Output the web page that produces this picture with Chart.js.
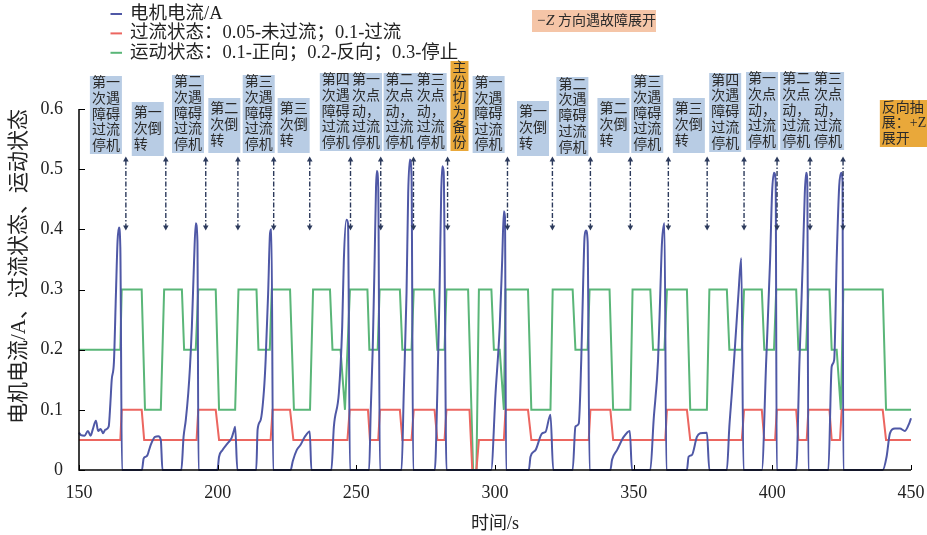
<!DOCTYPE html>
<html>
<head>
<meta charset="utf-8">
<script src="https://cdn.jsdelivr.net/npm/chart.js@4.4.1/dist/chart.umd.min.js"></script>
<style>
html,body{margin:0;padding:0;background:#fff;}
</style>
</head>
<body>
<canvas id="grafica" width="927" height="535"></canvas>
<script>
//DATOS: tiempo (s) y valores de cada serie
var tiempoCorriente = [
  150.0,150.7,152.0,153.2,154.2,155.0,156.1,156.9,157.8,158.7,159.5,160.7,161.3,161.8,162.6,163.3,163.9,164.4,164.9,165.5,
  172.7,173.3,174.0,174.7,175.2,175.9,177.4,178.6,179.5,180.1,
  186.9,187.7,188.5,189.4,190.0,190.7,191.5,192.1,192.7,193.1,
  199.9,200.5,201.7,203.5,205.0,205.9,206.3,207.1,
  213.9,214.4,215.5,216.7,217.3,218.2,218.9,219.4,220.0,
  226.3,227.1,228.5,229.9,231.4,233.2,233.8,
  241.0,241.9,243.7,244.9,245.5,246.4,247.0,247.7,
  254.6,255.2,255.9,256.6,257.1,257.4,257.9,258.5,
  266.3,267.1,268.1,268.7,269.3,269.9,270.5,
  278.3,279.2,280.0,280.6,281.0,281.5,282.5,
  298.6,300.2,301.7,302.6,303.2,303.6,304.0,
  312.2,312.8,314.6,317.0,318.2,320.0,321.0,
  328.0,329.0,330.2,331.1,331.7,332.3,332.8,333.4,334.1,
  341.6,342.2,344.0,346.4,348.6,349.4,
  356.0,357.2,358.8,359.6,360.2,361.1,361.8,
  369.2,369.8,371.0,372.8,374.0,376.4,377.3,
  383.6,384.5,385.4,387.0,387.8,388.8,389.6,
  396.2,397.8,399.2,399.9,400.6,401.2,401.6,
  408.6,409.8,411.0,411.7,412.2,412.6,413.0,
  420.2,421.4,422.3,423.2,424.1,424.8,425.3,425.6,
  439.8,441.2,442.4,444.2,446.0,447.8,449.4,450.0
];
var corriente = [
  0.062,0.058,0.057,0.065,0.057,0.068,0.082,0.065,0.068,0.061,0.067,0.072,0.11,0.15,0.18,0.29,0.38,0.403,0.37,0,
  0,0.019,0.022,0.025,0.032,0.042,0.055,0.056,0.05,0,
  0,0.055,0.083,0.128,0.17,0.238,0.349,0.41,0.38,0,
  0,0.022,0.033,0.044,0.053,0.066,0.072,0,
  0,0.067,0.083,0.133,0.183,0.294,0.394,0.40,0,
  0,0.015,0.033,0.042,0.055,0.064,0,
  0,0.072,0.128,0.238,0.35,0.416,0.41,0,
  0,0.1,0.2,0.35,0.47,0.497,0.47,0,
  0,0.128,0.294,0.46,0.516,0.49,0,
  0,0.128,0.294,0.46,0.505,0.495,0,
  0,0.128,0.238,0.35,0.43,0.42,0,
  0,0.022,0.033,0.061,0.063,0.092,0,
  0,0.072,0.077,0.183,0.294,0.388,0.398,0.38,0,
  0,0.017,0.033,0.055,0.065,0,
  0,0.083,0.183,0.294,0.377,0.41,0,
  0,0.022,0.025,0.055,0.061,0.062,0,
  0,0.072,0.128,0.238,0.294,0.352,0,
  0,0.183,0.35,0.46,0.494,0.48,0,
  0,0.183,0.35,0.46,0.494,0.48,0,
  0,0.172,0.183,0.35,0.471,0.494,0.48,0,
  0,0.022,0.061,0.069,0.069,0.065,0.078,0.086
];

var tiempoSobrecorriente = [
  150,164.9,165.4,172.6,173.5,192.4,193.0,199.3,200.5,219.1,219.8,226.1,227.3,246.8,247.6,254.2,254.9,257.9,258.5,
  265.7,266.6,269.9,270.7,278.2,279.2,281.8,282.5,290.8,291.8,293.3,294.2,303.2,303.8,311.9,313.1,333.8,334.4,
  341.6,342.6,361.4,362.0,369.2,370.4,389.0,389.8,396.2,397.1,401.0,401.6,408.6,409.4,412.4,413.0,420.6,421.4,
  424.4,425.0,439.8,441.0,450
];
var sobrecorriente = [
  0.05,0.05,0.1,0.1,0.05,0.05,0.1,0.1,0.05,0.05,0.1,0.1,0.05,0.05,0.1,0.1,0.05,0.05,0.1,
  0.1,0.05,0.05,0.1,0.1,0.05,0.05,0.1,0.1,0,0,0.05,0.05,0.1,0.1,0.05,0.05,0.1,
  0.1,0.05,0.05,0.1,0.1,0.05,0.05,0.1,0.1,0.05,0.05,0.1,0.1,0.05,0.05,0.1,0.1,0.05,
  0.05,0.1,0.1,0.05,0.05
];

var tiempoMovimiento = [
  150,164.9,165.4,172.6,173.8,179.5,180.7,187.1,187.9,192.1,193.0,199.3,200.5,206.3,207.5,214.0,214.7,218.8,219.5,
  226.1,227.5,233.3,234.4,240.5,241.4,244.3,245.9,247.7,254.0,254.7,257.7,258.4,265.7,266.6,269.9,270.7,
  278.0,279.2,281.8,282.5,290.3,292.1,293.3,294.2,298.7,299.6,301.7,303.2,303.8,311.9,313.1,320.0,320.8,
  328.0,329.0,333.4,334.1,341.3,342.6,348.8,349.6,356.0,357.0,361.1,362.0,369.2,370.4,376.4,377.3,
  383.6,384.5,389.0,389.8,396.2,397.1,400.6,401.4,408.6,409.4,412.2,413.0,420.6,421.4,423.2,424.7,425.6,
  439.8,441.0,450
];
var movimiento = [
  0.2,0.2,0.3,0.3,0.1,0.1,0.3,0.3,0.2,0.2,0.3,0.3,0.1,0.1,0.3,0.3,0.2,0.2,0.3,
  0.3,0.1,0.1,0.3,0.3,0.2,0.2,0.1,0.3,0.3,0.2,0.2,0.3,0.3,0.2,0.2,0.3,
  0.3,0.2,0.2,0.3,0.3,0,0,0.3,0.3,0.2,0.2,0.1,0.3,0.3,0.1,0.1,0.3,
  0.3,0.2,0.2,0.3,0.3,0.1,0.1,0.3,0.3,0.2,0.2,0.3,0.3,0.1,0.1,0.3,
  0.3,0.2,0.2,0.3,0.3,0.2,0.2,0.3,0.3,0.2,0.2,0.3,0.3,0.2,0.2,0.1,0.3,
  0.3,0.1,0.1
];

var etiquetas = ['电机电流/A', '过流状态：0.05-未过流；0.1-过流', '运动状态：0.1-正向；0.2-反向；0.3-停止'];

//ANOTACIONES (textos, tiempo del centro de cada caja, tiempo de cada flecha)
var notaTexto = [
  '第一\n次遇\n障碍\n过流\n停机', '第一\n次倒\n转', '第二\n次遇\n障碍\n过流\n停机', '第二\n次倒\n转',
  '第三\n次遇\n障碍\n过流\n停机', '第三\n次倒\n转', '第四\n次遇\n障碍\n过流\n停机',
  '第一\n次点\n动，\n过流\n停机', '第二\n次点\n动，\n过流\n停机', '第三\n次点\n动，\n过流\n停机',
  '主\n份\n切\n为\n备\n份',
  '第一\n次遇\n障碍\n过流\n停机', '第一\n次倒\n转', '第二\n次遇\n障碍\n过流\n停机', '第二\n次倒\n转',
  '第三\n次遇\n障碍\n过流\n停机', '第三\n次倒\n转', '第四\n次遇\n障碍\n过流\n停机',
  '第一\n次点\n动，\n过流\n停机', '第二\n次点\n动，\n过流\n停机', '第三\n次点\n动，\n过流\n停机',
  '反向抽\n展：+Z\n展开'
];
var notaTiempo = [159.7,174.8,189.3,202.4,214.8,227.4,242.6,253.5,265.6,276.8,287.2,
  297.7,313.7,327.9,342.7,354.9,369.9,383.0,396.3,408.6,420.1,447.5];
var flechaTiempo = [166.9,181.3,195.7,207.3,220.2,233.2,247.9,258.8,270.6,282.9,
  304.5,320.7,334.4,348.8,362.5,376.5,389.8,401.7,413.6,425.5];

//POSICION DE LAS CAJAS (px)
var notaArriba = [76,102,75,98,75,98,73,73,73,73,61,76,101,77,98,75,98,73,72,72,72,100];
var notaAbajo = [154,156,153,153,153,153,151,151,151,151,151,153,156,156,153,153,153,152,150,150,150,147];
var notaNaranja = [10, 21];

var FUENTE = "'Liberation Serif', 'Noto Sans CJK SC', serif";

function pares(xs, ys) {
  return xs.map(function (t, i) { return {x: t, y: ys[i]}; });
}

function flecha(ctx, x, y, dir) {
  ctx.beginPath();
  ctx.moveTo(x, y);
  ctx.lineTo(x - 2.8, y - dir * 5);
  ctx.lineTo(x + 2.8, y - dir * 5);
  ctx.closePath();
  ctx.fill();
}

var anotaciones = {
  id: 'anotaciones',
  afterDatasetsDraw: function (chart) {
    var ctx = chart.ctx, a = chart.chartArea, sx = chart.scales.x, sy = chart.scales.y;
    ctx.save();
    ctx.strokeStyle = '#000';
    ctx.lineWidth = 1.5;
    ctx.beginPath();
    ctx.moveTo(a.left, a.top);
    ctx.lineTo(a.left, a.bottom);
    ctx.lineTo(a.right, a.bottom);
    ctx.stroke();
    ctx.lineWidth = 1;
    sx.ticks.forEach(function (t) {
      var px = Math.round(sx.getPixelForValue(t.value)) + 0.5;
      ctx.beginPath(); ctx.moveTo(px, a.bottom); ctx.lineTo(px, a.bottom - 5); ctx.stroke();
    });
    sy.ticks.forEach(function (t) {
      var py = Math.round(sy.getPixelForValue(t.value)) + 0.5;
      ctx.beginPath(); ctx.moveTo(a.left, py); ctx.lineTo(a.left + 6, py); ctx.stroke();
    });
    ctx.restore();
  },
  afterDraw: function (chart) {
    var ctx = chart.ctx, sx = chart.scales.x, sy = chart.scales.y;
    ctx.save();

    //flechas
    var yArriba = sy.getPixelForValue(0.521), yAbajo = sy.getPixelForValue(0.398);
    ctx.strokeStyle = '#2c3a5c';
    ctx.fillStyle = '#2c3a5c';
    ctx.lineWidth = 1.4;
    flechaTiempo.forEach(function (t) {
      var px = sx.getPixelForValue(t);
      ctx.setLineDash([5, 2, 1.5, 2]);
      ctx.beginPath(); ctx.moveTo(px, yArriba + 4); ctx.lineTo(px, yAbajo - 4); ctx.stroke();
      ctx.setLineDash([]);
      flecha(ctx, px, yArriba, -1);
      flecha(ctx, px, yAbajo, 1);
    });

    //cajas
    ctx.font = '14px ' + FUENTE;
    ctx.textBaseline = 'middle';
    ctx.textAlign = 'left';
    notaTexto.forEach(function (txt, i) {
      var lineas = txt.split('\n');
      var ancho = 0;
      lineas.forEach(function (l) { ancho = Math.max(ancho, ctx.measureText(l).width); });
      ancho += 4;
      var cx = sx.getPixelForValue(notaTiempo[i]);
      var izq = cx - ancho / 2;
      var top = notaArriba[i], alto = notaAbajo[i] - notaArriba[i];
      ctx.fillStyle = notaNaranja.indexOf(i) >= 0 ? '#e9a83a' : '#b8cce4';
      ctx.fillRect(izq, top, ancho, alto);
      var lh = Math.min(16, alto / lineas.length);
      ctx.fillStyle = '#2a2a2a';
      lineas.forEach(function (l, k) {
        ctx.fillText(l, izq + 2, top + alto / 2 + (k - (lineas.length - 1) / 2) * lh);
      });
    });

    //caja superior
    ctx.fillStyle = '#f5c5a7';
    ctx.fillRect(532, 10, 124, 22);
    ctx.fillStyle = '#2a2a2a';
    ctx.font = 'italic 15px ' + FUENTE;
    ctx.fillText('\u2212Z', 536, 21.5);
    var w = ctx.measureText('\u2212Z').width;
    ctx.font = '14px ' + FUENTE;
    ctx.fillText(' 方向遇故障展开', 536 + w, 21.5);

    //leyenda
    ctx.font = '18.5px ' + FUENTE;
    chart.data.datasets.forEach(function (ds, i) {
      var y = 14 + i * 19.4;
      ctx.strokeStyle = ds.borderColor;
      ctx.lineWidth = 2;
      ctx.beginPath(); ctx.moveTo(110.5, y); ctx.lineTo(122, y); ctx.stroke();
      ctx.fillStyle = '#222';
      ctx.fillText(ds.label, 130, y);
    });
    ctx.restore();
  }
};

var fuenteEje = {family: FUENTE, size: 18};

var config = {
  type: 'line',
  data: {
    datasets: [{
      label: etiquetas[0],
      data: pares(tiempoCorriente, corriente),
      borderColor: '#4f58a6',
      borderWidth: 2,
      pointRadius: 0,
      cubicInterpolationMode: 'monotone',
      clip: 3
    }, {
      label: etiquetas[1],
      data: pares(tiempoSobrecorriente, sobrecorriente),
      borderColor: '#ec6660',
      borderWidth: 2,
      pointRadius: 0,
      tension: 0,
      clip: 3
    }, {
      label: etiquetas[2],
      data: pares(tiempoMovimiento, movimiento),
      borderColor: '#5ab678',
      borderWidth: 2,
      pointRadius: 0,
      tension: 0,
      clip: 3
    }]
  },
  options: {
    responsive: false,
    animation: false,
    devicePixelRatio: 1,
    layout: {padding: {left: 0, right: 16, top: 109, bottom: 0}},
    plugins: {legend: {display: false}, tooltip: {enabled: false}},
    scales: {
      x: {
        type: 'linear', min: 150, max: 450,
        ticks: {stepSize: 50, padding: 12, font: fuenteEje, color: '#222'},
        grid: {display: false, drawTicks: false},
        border: {display: false},
        title: {display: true, text: '时间/s', font: fuenteEje, color: '#222', padding: {top: 0, bottom: 0}},
        afterFit: function (s) { s.height = 65; s.paddingLeft = 0; s.paddingRight = 16; }
      },
      y: {
        min: 0, max: 0.6,
        ticks: {stepSize: 0.1, padding: 16, font: fuenteEje, color: '#222'},
        grid: {display: false, drawTicks: false},
        border: {display: false},
        title: {display: true, text: '电机电流/A、过流状态、运动状态', align: 'end', font: {family: FUENTE, size: 21}, color: '#222', padding: {top: 7, bottom: 0}},
        afterFit: function (s) { s.width = 79; }
      }
    }
  },
  plugins: [anotaciones]
};

var grafica = new Chart(document.getElementById('grafica').getContext('2d'), config);
</script>
</body>
</html>
